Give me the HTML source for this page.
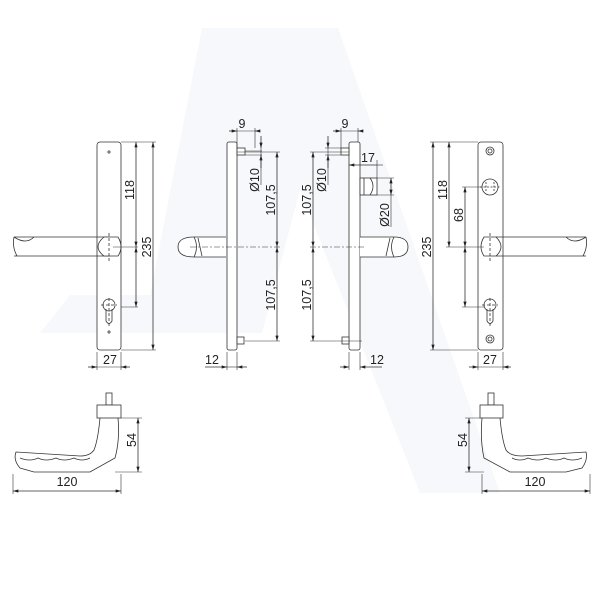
<!DOCTYPE html>
<html><head><meta charset="utf-8"><style>
html,body{margin:0;padding:0;background:#fff}
svg{display:block}
text{font-family:"Liberation Sans",Arial,sans-serif;font-size:12.5px;fill:#222}
</style></head><body>
<svg width="600" height="600" viewBox="0 0 600 600" xmlns="http://www.w3.org/2000/svg">
<defs>
<marker id="a" viewBox="0 0 10 6" refX="10" refY="3" markerWidth="7" markerHeight="4" orient="auto-start-reverse"><path d="M0,0L10,3L0,6z" fill="#222"/></marker>
</defs>
<!-- watermark -->
<polygon points="202,28 338,28 500,493 420,493 300,190 262,333 40,333 70,295 150,295 202,28" fill="#f7f8fb"/>
<g fill="none" stroke="#333" stroke-width="0.8">
<!-- LEFT FRONT PLATE -->
<rect x="97" y="142" width="24" height="208" rx="3" fill="#fff"/>
<path d="M107,152h4M109,150v4M107,332h4M109,330v4"/>
<path d="M14,237 H110 M14,256 H110 M14,237 q-2,10 3,19 M14,237 q12,8 20,0" />
<path d="M104,256 Q92,247 104,237 H118 Q124,247 118,256 Z" fill="#fff"/>
<path d="M109,233v28" stroke-dasharray="3,2"/>
<circle cx="109" cy="305" r="6" fill="#fff"/>
<path d="M106,309 v12 q3,5 6,0 v-12"/>
<path d="M101,305h16M109,298v30" stroke-dasharray="3,2"/>
<path d="M121,142H156 M121,307H138 M121,350H156 M113,247H138" stroke-width="0.6"/>
<path d="M97,352v18M121,352v18" stroke-width="0.6"/>
<line x1="136" y1="142" x2="136" y2="247" marker-start="url(#a)" marker-end="url(#a)"/>
<line x1="136" y1="247" x2="136" y2="307" marker-start="url(#a)" marker-end="url(#a)"/>
<line x1="153" y1="142" x2="153" y2="350" marker-start="url(#a)" marker-end="url(#a)"/>
<line x1="88" y1="367" x2="97" y2="367" marker-end="url(#a)"/>
<line x1="130" y1="367" x2="121" y2="367" marker-end="url(#a)"/>
<line x1="97" y1="367" x2="121" y2="367" stroke-width="0.6"/>

<!-- LEFT SIDE VIEW -->
<rect x="227" y="142" width="10" height="208" rx="2" fill="#fff"/>
<rect x="237" y="148" width="8" height="7" fill="#fff"/>
<rect x="237" y="337" width="7" height="7" fill="#fff"/>
<path d="M226,237 H194 Q178,237 178,247 Q178,257 194,257 H226" fill="#fff"/>
<path d="M194,237 q5,10 0,20 M198,238 l4,18"/>
<path d="M190,247 H280" stroke-dasharray="6,2,2,2" stroke-width="0.6"/>
<path d="M245,151H262 M245,341H280 M237,152H280 M245,155H262" stroke-width="0.6"/>
<path d="M237,128v20 M255,128v20" stroke-width="0.6"/>
<line x1="229" y1="131" x2="237" y2="131" marker-end="url(#a)"/>
<line x1="260" y1="131" x2="255" y2="131" marker-end="url(#a)"/>
<line x1="237" y1="131" x2="255" y2="131" stroke-width="0.6"/>
<line x1="261" y1="136" x2="261" y2="148" marker-end="url(#a)"/>
<line x1="261" y1="168" x2="261" y2="155" marker-end="url(#a)"/>
<line x1="261" y1="148" x2="261" y2="185" stroke-width="0.6"/>
<line x1="277" y1="152" x2="277" y2="247" marker-start="url(#a)" marker-end="url(#a)"/>
<line x1="277" y1="247" x2="277" y2="341" marker-start="url(#a)" marker-end="url(#a)"/>
<path d="M227,352v18M237,352v18" stroke-width="0.6"/>
<line x1="205" y1="367" x2="227" y2="367" marker-end="url(#a)"/>
<line x1="247" y1="367" x2="237" y2="367" marker-end="url(#a)"/>
<line x1="227" y1="367" x2="237" y2="367" stroke-width="0.6"/>

<!-- RIGHT SIDE VIEW -->
<rect x="349" y="142" width="11" height="208" rx="2" fill="#fff"/>
<rect x="341" y="148" width="8" height="7" fill="#fff"/>
<rect x="342" y="337" width="7" height="7" fill="#fff"/>
<path d="M360,237 H394 Q408,237 408,247 Q408,257 394,257 H360" fill="#fff"/>
<path d="M394,237 q-5,10 0,20 M390,238 l-4,18"/>
<path d="M310,247 H366" stroke-dasharray="6,2,2,2" stroke-width="0.6"/>
<path d="M310,152H349 M325,155H341 M325,148H341 M310,341H362" stroke-width="0.6"/>
<rect x="360" y="178" width="17" height="17" fill="#fff"/>
<path d="M364,178 v17 M370,178 q6,8 0,17" />
<path d="M341,128v20 M358,128v14" stroke-width="0.6"/>
<line x1="333" y1="131" x2="341" y2="131" marker-end="url(#a)"/>
<line x1="363" y1="131" x2="358" y2="131" marker-end="url(#a)"/>
<line x1="341" y1="131" x2="358" y2="131" stroke-width="0.6"/>
<line x1="328" y1="136" x2="328" y2="148" marker-end="url(#a)"/>
<line x1="328" y1="168" x2="328" y2="155" marker-end="url(#a)"/>
<line x1="328" y1="148" x2="328" y2="185" stroke-width="0.6"/>
<line x1="313" y1="152" x2="313" y2="247" marker-start="url(#a)" marker-end="url(#a)"/>
<line x1="313" y1="247" x2="313" y2="341" marker-start="url(#a)" marker-end="url(#a)"/>
<line x1="349" y1="165" x2="377" y2="165" marker-start="url(#a)" stroke-width="0.8"/>
<line x1="377" y1="165" x2="383" y2="165" stroke-width="0.6"/>
<path d="M377,160v18 M377,178H394 M377,195H394" stroke-width="0.6"/>
<line x1="391" y1="178" x2="391" y2="195" marker-start="url(#a)" marker-end="url(#a)"/>
<line x1="391" y1="195" x2="391" y2="227" stroke-width="0.6"/>
<path d="M349,352v18M360,352v18" stroke-width="0.6"/>
<line x1="340" y1="367" x2="349" y2="367" marker-end="url(#a)"/>
<line x1="382" y1="367" x2="360" y2="367" marker-end="url(#a)"/>

<!-- RIGHT FRONT PLATE -->
<rect x="478" y="142" width="25" height="208" rx="3" fill="#fff"/>
<circle cx="490" cy="151" r="4"/><circle cx="490" cy="151" r="2"/>
<circle cx="490" cy="339" r="4"/><circle cx="490" cy="339" r="2"/>
<circle cx="490" cy="187" r="8" fill="#fff"/>
<path d="M486,182v10M494,182v10M480,187h20" stroke-dasharray="2,1.5"/>
<path d="M496,237 H586 M496,256 H586 M586,237 q2,10 -3,19 M586,237 q-12,8 -20,0"/>
<path d="M484,256 Q478,247 484,237 H496 Q506,247 496,256 Z" fill="#fff"/>
<path d="M490,233v28" stroke-dasharray="3,2"/>
<circle cx="490" cy="305" r="6" fill="#fff"/>
<path d="M487,309 v12 q3,5 6,0 v-12"/>
<path d="M482,305h16M490,298v30" stroke-dasharray="3,2"/>
<path d="M430,142H478 M430,350H478 M446,247H484 M462,187H482 M462,307H484" stroke-width="0.6"/>
<line x1="433" y1="142" x2="433" y2="350" marker-start="url(#a)" marker-end="url(#a)"/>
<line x1="449" y1="142" x2="449" y2="247" marker-start="url(#a)" marker-end="url(#a)"/>
<line x1="465" y1="187" x2="465" y2="247" marker-start="url(#a)" marker-end="url(#a)"/>
<line x1="465" y1="247" x2="465" y2="307" marker-start="url(#a)" marker-end="url(#a)"/>
<path d="M478,352v18M503,352v18" stroke-width="0.6"/>
<line x1="469" y1="367" x2="478" y2="367" marker-end="url(#a)"/>
<line x1="511" y1="367" x2="503" y2="367" marker-end="url(#a)"/>
<line x1="478" y1="367" x2="503" y2="367" stroke-width="0.6"/>

<!-- LEFT LEVER -->
<rect x="106" y="393" width="6" height="12" fill="#fff"/>
<rect x="97" y="405" width="24" height="13" fill="#fff"/>
<path d="M100,418 Q98,440 94,450 Q90,456 80,456 L16,452 Q13,460 20,468 L34,472 H90 L115,458 Q120,440 118,418"/>
<path d="M20,458 q10,4 18,0 q8,4 18,0 q8,4 18,0 q8,4 16,0"/>
<path d="M121,418H142 M115,472H142 M13,474v20 M121,474v20" stroke-width="0.6"/>
<line x1="138" y1="418" x2="138" y2="472" marker-start="url(#a)" marker-end="url(#a)"/>
<line x1="13" y1="491" x2="121" y2="491" marker-start="url(#a)" marker-end="url(#a)"/>

<!-- RIGHT LEVER -->
<rect x="488" y="393" width="6" height="12" fill="#fff"/>
<rect x="480" y="405" width="23" height="13" fill="#fff"/>
<path d="M482,418 Q480,440 484,458 L510,472 H566 L582,468 Q588,460 586,452 L522,456 Q510,456 506,450 Q502,440 500,418"/>
<path d="M582,458 q-10,4 -18,0 q-8,4 -18,0 q-8,4 -18,0 q-8,4 -16,0"/>
<path d="M465,418H480 M465,472H484 M482,474v20 M590,474v20" stroke-width="0.6"/>
<line x1="469" y1="418" x2="469" y2="472" marker-start="url(#a)" marker-end="url(#a)"/>
<line x1="482" y1="491" x2="590" y2="491" marker-start="url(#a)" marker-end="url(#a)"/>
</g>
<!-- labels -->
<text x="110" y="364" text-anchor="middle">27</text>
<text x="490" y="364" text-anchor="middle">27</text>
<text x="212" y="364" text-anchor="middle">12</text>
<text x="377" y="364" text-anchor="middle">12</text>
<text x="242" y="128" text-anchor="middle">9</text>
<text x="345" y="128" text-anchor="middle">9</text>
<text x="368" y="162" text-anchor="middle">17</text>
<text x="67" y="486" text-anchor="middle">120</text>
<text x="535" y="486" text-anchor="middle">120</text>
<text transform="translate(134,190) rotate(-90)" text-anchor="middle">118</text>
<text transform="translate(151,247) rotate(-90)" text-anchor="middle">235</text>
<text transform="translate(259,180) rotate(-90)" text-anchor="middle">Ø10</text>
<text transform="translate(275,200) rotate(-90)" text-anchor="middle">107,5</text>
<text transform="translate(275,295) rotate(-90)" text-anchor="middle">107,5</text>
<text transform="translate(311,200) rotate(-90)" text-anchor="middle">107,5</text>
<text transform="translate(311,295) rotate(-90)" text-anchor="middle">107,5</text>
<text transform="translate(326,180) rotate(-90)" text-anchor="middle">Ø10</text>
<text transform="translate(389,215) rotate(-90)" text-anchor="middle">Ø20</text>
<text transform="translate(431,247) rotate(-90)" text-anchor="middle">235</text>
<text transform="translate(447,190) rotate(-90)" text-anchor="middle">118</text>
<text transform="translate(463,215) rotate(-90)" text-anchor="middle">68</text>
<text transform="translate(136,440) rotate(-90)" text-anchor="middle">54</text>
<text transform="translate(467,440) rotate(-90)" text-anchor="middle">54</text>
</svg>
</body></html>
